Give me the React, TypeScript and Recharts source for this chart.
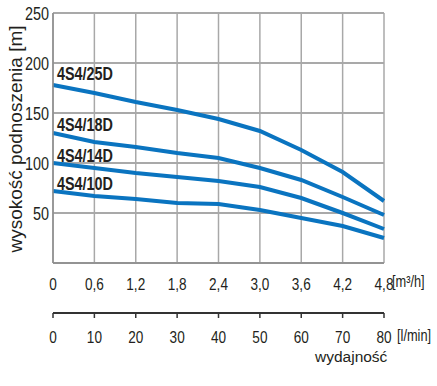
import React from 'react';
import {
  LineChart,
  Line,
  XAxis,
  YAxis,
  CartesianGrid,
} from 'recharts';

const flowM3h = [0, 0.6, 1.2, 1.8, 2.4, 3.0, 3.6, 4.2, 4.8];
const flowLmin = [0, 10, 20, 30, 40, 50, 60, 70, 80];
const headTicks = [50, 100, 150, 200, 250];

const head25D = [178, 170, 161, 153, 144, 132, 113, 91, 62];
const head18D = [130, 121, 116, 110, 105, 95, 83, 66, 48];
const head14D = [100, 95, 90, 86, 82, 76, 65, 50, 34];
const head10D = [72, 67, 64, 60, 59, 53, 45, 37, 25];

const pumps = [
  { key: 'p25', name: '4S4/25D', values: head25D, lift: 12 },
  { key: 'p18', name: '4S4/18D', values: head18D, lift: 9 },
  { key: 'p14', name: '4S4/14D', values: head14D, lift: 8 },
  { key: 'p10', name: '4S4/10D', values: head10D, lift: 8 },
];

const data = flowM3h.map((q, i) => {
  const row: any = { q, lmin: flowLmin[i] };
  pumps.forEach((p) => {
    row[p.key] = p.values[i];
  });
  return row;
});

const FONT = "'Liberation Sans', Arial, sans-serif";
const BLUE = '#0a74c0';
const TEXT = '#231f20';
const SQUEEZE = 0.8;

const fmtComma = (v: number) => (v === 0 ? '0' : v.toFixed(1).replace('.', ','));

// narrow text: regular sans squeezed horizontally (no Arial Narrow here)
function NText({ x, y, anchor = 'start', size = 17, bold = false, baseline = 'central', children }: any) {
  return (
    <text
      transform={`translate(${x},${y}) scale(${SQUEEZE},1)`}
      textAnchor={anchor}
      dominantBaseline={baseline}
      fontFamily={FONT}
      fontWeight={bold ? 'bold' : 'normal'}
      fontSize={size}
      fill={TEXT}
    >
      {children}
    </text>
  );
}

const xTick = (fmt: (v: number) => string) => (props: any) => (
  <NText x={props.x} y={props.y + 6} anchor="middle" size={17}>
    {fmt(props.payload.value)}
  </NText>
);

const yTick = (props: any) => (
  <NText x={props.x} y={props.y} anchor="end" size={18}>
    {props.payload.value}
  </NText>
);

const nameLabel = (name: string, lift: number) => (props: any) => {
  if (props.index !== 0) return null;
  return (
    <NText x={props.x + 4} y={props.y - lift} size={18} bold>
      {name}
    </NText>
  );
};

export default function App() {
  return (
    <div style={{ position: 'absolute', left: 0, top: 0 }}>
      <LineChart
        width={437}
        height={386}
        data={data}
        margin={{ top: 13, right: 53, bottom: 0, left: 0 }}
      >
        <CartesianGrid vertical={false} stroke="#8c8c8c" strokeWidth={1.5} />
        <CartesianGrid horizontal={false} stroke="#a8a8a8" strokeWidth={1.5} />
        <XAxis
          dataKey="q"
          type="number"
          domain={[0, 4.8]}
          ticks={flowM3h}
          height={50}
          tickLine={false}
          tickSize={0}
          tickMargin={15}
          axisLine={{ stroke: '#8c8c8c', strokeWidth: 1.5 }}
          tick={xTick(fmtComma)}
        />
        <XAxis
          xAxisId="lmin"
          dataKey="lmin"
          type="number"
          domain={[0, 80]}
          ticks={flowLmin}
          height={73}
          tickSize={5}
          tickMargin={13}
          axisLine={{ stroke: '#333', strokeWidth: 2 }}
          tickLine={{ stroke: '#333', strokeWidth: 1.5 }}
          tick={xTick((v) => String(v))}
        />
        <YAxis
          type="number"
          domain={[0, 250]}
          ticks={headTicks}
          width={53}
          tickLine={false}
          tickSize={0}
          tickMargin={4}
          axisLine={{ stroke: '#8c8c8c', strokeWidth: 1.5 }}
          tick={yTick}
        />
        {pumps.map((p) => (
          <Line
            key={p.key}
            dataKey={p.key}
            type="linear"
            stroke={BLUE}
            strokeWidth={4}
            dot={false}
            isAnimationActive={false}
            label={nameLabel(p.name, p.lift)}
          />
        ))}
        <text
          transform="translate(15,139) rotate(-90)"
          textAnchor="middle"
          dominantBaseline="central"
          fontFamily={FONT}
          fontSize={19}
          fill={TEXT}
        >
          wysokość podnoszenia [m]
        </text>
        <NText x={392} y={281} size={16}>[m³/h]</NText>
        <NText x={397} y={335} size={16}>[l/min]</NText>
        <text x={315} y={356} dominantBaseline="central" fontFamily={FONT} fontSize={15.5} fill={TEXT}>
          wydajność
        </text>
      </LineChart>
    </div>
  );
}
